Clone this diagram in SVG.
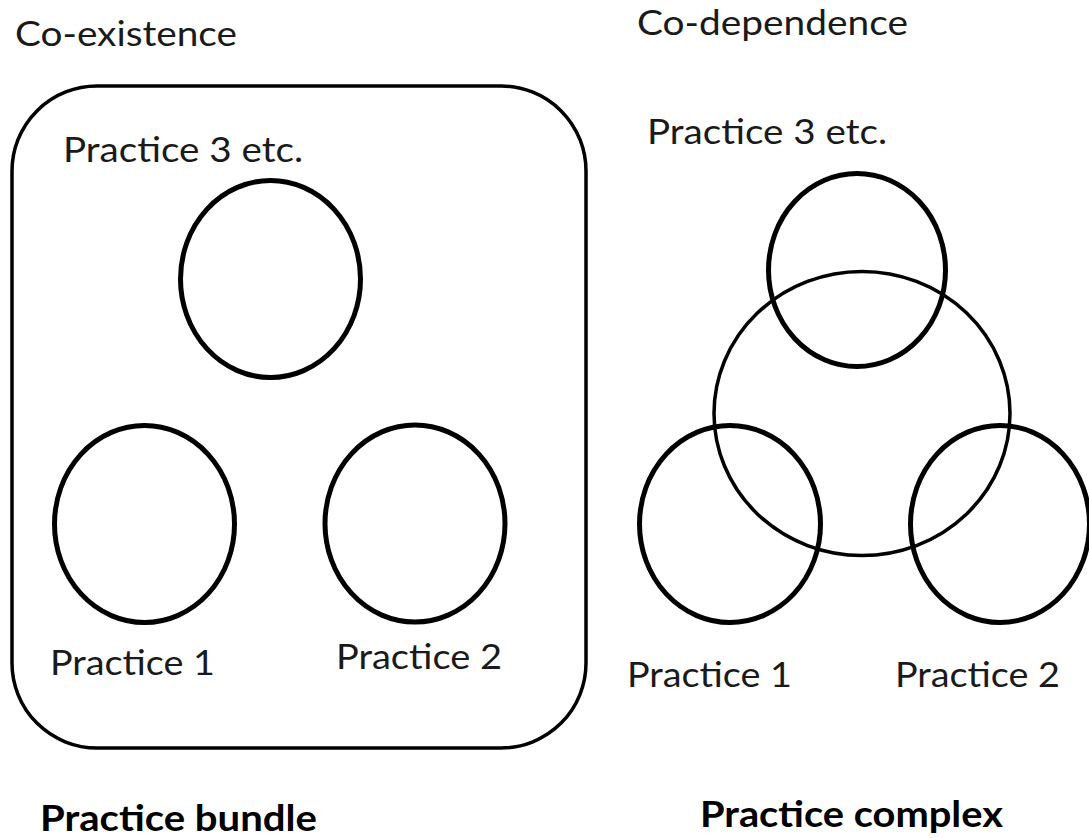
<svg xmlns="http://www.w3.org/2000/svg" width="1089" height="838" viewBox="0 0 1089 838">
<style>
.t{font-family:Lato,"Open Sans","Liberation Sans",sans-serif;font-size:35px;fill:#1a1a1a}
.b{font-family:Lato,"Open Sans","Liberation Sans",sans-serif;font-size:37px;font-weight:bold;fill:#000}
.p{fill:none;stroke:#000;stroke-width:5}
.box{fill:none;stroke:#000;stroke-width:3.5}
.big{fill:none;stroke:#000;stroke-width:3.5}
</style>
<rect width="1089" height="838" fill="#fff"/>
<g id="bundle">
  <text class="t" x="15" y="46" textLength="222" lengthAdjust="spacingAndGlyphs">Co-existence</text>
  <rect id="bundle-box" class="box" x="12" y="86" width="574" height="662" rx="85" ry="85"/>
  <g id="b-p3">
    <ellipse class="p" cx="270.5" cy="279" rx="90" ry="98.5"/>
    <text class="t" x="63" y="162" textLength="240" lengthAdjust="spacingAndGlyphs">Practice 3 etc.</text>
  </g>
  <g id="b-p1">
    <ellipse class="p" cx="144.5" cy="524" rx="90" ry="98.5"/>
    <text class="t" x="50" y="675" textLength="165" lengthAdjust="spacingAndGlyphs">Practice 1</text>
  </g>
  <g id="b-p2">
    <ellipse class="p" cx="415" cy="523.5" rx="90" ry="98.5"/>
    <text class="t" x="336" y="669" textLength="166" lengthAdjust="spacingAndGlyphs">Practice 2</text>
  </g>
  <text class="b" x="40" y="831" textLength="277" lengthAdjust="spacingAndGlyphs">Practice bundle</text>
</g>
<g id="complex">
  <text class="t" x="637" y="35" textLength="271" lengthAdjust="spacingAndGlyphs">Co-dependence</text>
  <ellipse id="core" class="big" cx="862" cy="413.5" rx="148" ry="142"/>
  <g id="c-p3">
    <ellipse class="p" cx="857" cy="270" rx="88.5" ry="96.5"/>
    <text class="t" x="647" y="144" textLength="240" lengthAdjust="spacingAndGlyphs">Practice 3 etc.</text>
  </g>
  <g id="c-p1">
    <ellipse class="p" cx="730" cy="524" rx="90.5" ry="98.5"/>
    <text class="t" x="627" y="687" textLength="165" lengthAdjust="spacingAndGlyphs">Practice 1</text>
  </g>
  <g id="c-p2">
    <ellipse class="p" cx="1000" cy="524" rx="89.5" ry="98.5"/>
    <text class="t" x="895" y="687" textLength="165" lengthAdjust="spacingAndGlyphs">Practice 2</text>
  </g>
  <text class="b" x="700" y="827" textLength="303" lengthAdjust="spacingAndGlyphs">Practice complex</text>
</g>
<g id="connectors"/>
</svg>
